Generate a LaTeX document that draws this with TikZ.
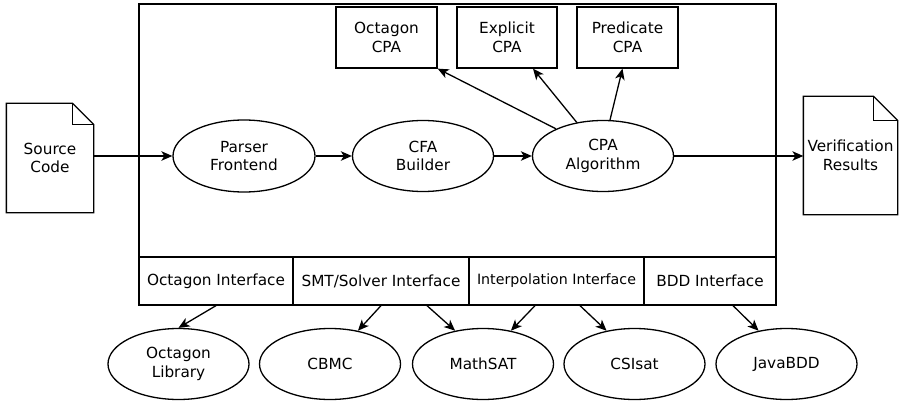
\documentclass[tikz,border=0pt]{standalone}
\usepackage{fontspec}
\setmainfont{DejaVu Sans}
\usepackage{tikz}
\usetikzlibrary{shapes.geometric, positioning, arrows.meta}
\tikzset{
    base/.style={draw, line width=1.3pt, align=center, inner sep=0pt,
        font=\fontsize{15.3}{18.5}\selectfont},
    compnode/.style={base, ellipse, minimum width=141pt, minimum height=71pt},
    cpabox/.style={base, rectangle, minimum width=101pt, minimum height=61pt},
    ifacebox/.style={base, rectangle, minimum height=48pt},
    docnode/.style={base, draw=none, rectangle},
    docline/.style={line width=1.3pt, line join=miter},
    arr/.style={line width=1.3pt, -{Stealth[length=11pt, width=9.5pt, inset=3pt]}}
}

\begin{document}
\begin{tikzpicture}[x=1pt, y=-1pt]
    \useasboundingbox (0,0) rectangle (899,401);

    % main frame
    \draw[line width=1.3pt] (139,4) rectangle (776,257);

    % input and output documents
    \node[docnode, minimum width=86pt, minimum height=108pt] (src) at (50,158) {Source\\Code};
    \node[docnode, minimum width=93pt, minimum height=117pt] (res) at (850.5,155.5) {Verification\\Results};
    \draw[docline] (src.south west) -- (src.north west) -- ([xshift=-21pt]src.north east)
        -- ([yshift=-21pt]src.north east) -- (src.south east) -- cycle;
    \draw[docline] ([xshift=-21pt]src.north east) |- ([yshift=-21pt]src.north east);
    \draw[docline] (res.south west) -- (res.north west) -- ([xshift=-24pt]res.north east)
        -- ([yshift=-24pt]res.north east) -- (res.south east) -- cycle;
    \draw[docline] ([xshift=-24pt]res.north east) |- ([yshift=-24pt]res.north east);

    % main pipeline
    \node[compnode, minimum width=142pt, minimum height=72pt] (parser) at (244,156) {Parser\\Frontend};
    \node[compnode] (cfa) at (423,156) {CFA\\Builder};
    \node[compnode] (cpa) at (603,156) {CPA\\Algorithm};

    % CPAs
    \node[cpabox] (ocpa) at (386.5,37.5) {Octagon\\CPA};
    \node[cpabox, minimum width=100pt] (ecpa) at (507,37.5) {Explicit\\CPA};
    \node[cpabox] (pcpa) at (627.5,37.5) {Predicate\\CPA};

    % interfaces
    \node[ifacebox, minimum width=154pt] (oif) at (216,281) {Octagon Interface};
    \node[ifacebox, minimum width=176pt] (smt) at (381,281) {SMT/Solver Interface};
    \node[ifacebox, minimum width=175pt, font=\fontsize{14.2}{17}\selectfont] (itp) at (556.5,281) {Interpolation Interface};
    \node[ifacebox, minimum width=132pt] (bdd) at (710,281) {BDD Interface};

    % libraries
    \node[compnode] (olib) at (178.5,364) {Octagon\\Library};
    \node[compnode] (cbmc) at (330,364) {CBMC};
    \node[compnode] (msat) at (483,364) {MathSAT};
    \node[compnode] (csi) at (634.5,364) {CSIsat};
    \node[compnode] (jbdd) at (786.5,364) {JavaBDD};

    \draw[arr] (src.east |- parser) -- (parser);
    \draw[arr] (parser) -- (cfa);
    \draw[arr] (cfa) -- (cpa);
    \draw[arr] (cpa) -- (res.west |- cpa);

    \draw[arr] (cpa.150) -- (ocpa.south east);
    \draw[arr] (cpa.128) -- ([xshift=26pt]ecpa.south);
    \draw[arr] (cpa.79) -- ([xshift=-5pt]pcpa.south);

    \draw[arr] (oif.south) -- (olib.north);
    \draw[arr] (smt.south) -- (cbmc.50);
    \draw[arr] ([xshift=46pt]smt.south) -- (msat.130);
    \draw[arr] ([xshift=-21.5pt]itp.south) -- (msat.50);
    \draw[arr] ([xshift=23.5pt]itp.south) -- (csi.130);
    \draw[arr] ([xshift=23pt]bdd.south) -- (jbdd.130);
\end{tikzpicture}
\end{document}
